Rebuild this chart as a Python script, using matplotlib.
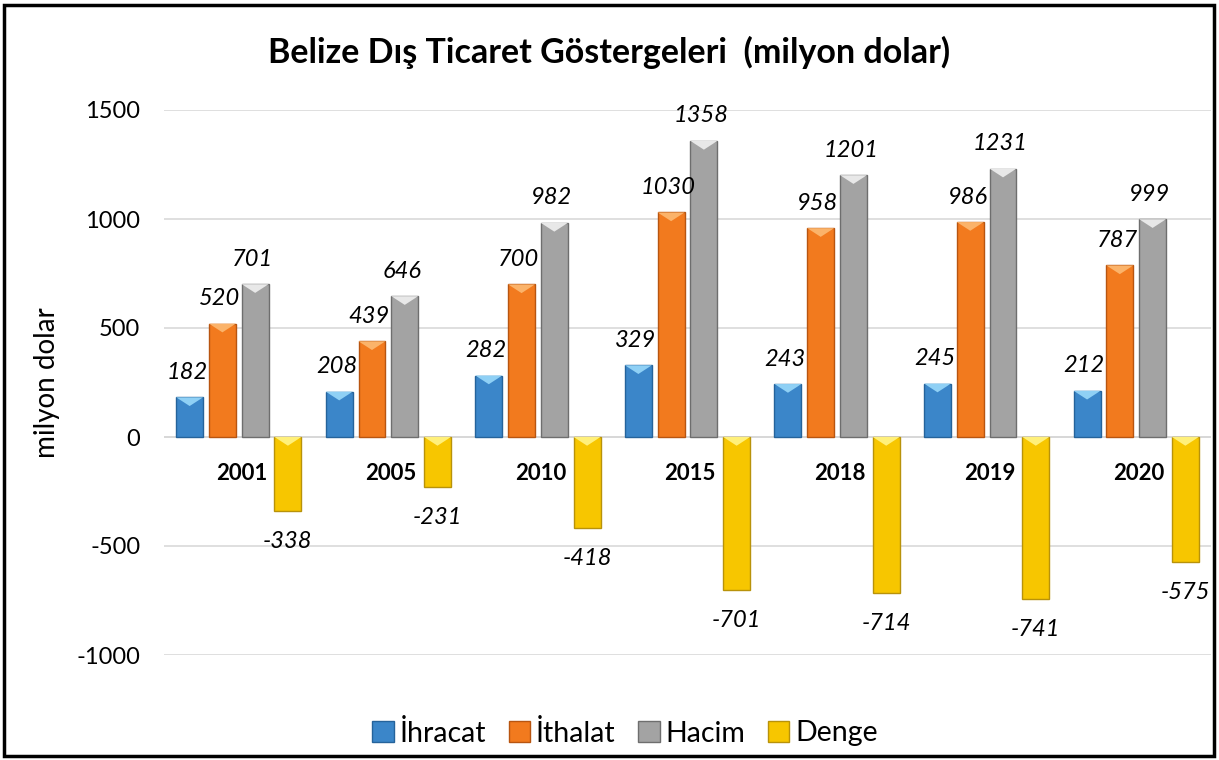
import numpy as np
import matplotlib
matplotlib.use("Agg")
import matplotlib.pyplot as plt
from matplotlib.patches import Polygon, Rectangle

# data
years = ["2001", "2005", "2010", "2015", "2018", "2019", "2020"]
ihracat = [182, 208, 282, 329, 243, 245, 212]
ithalat = [520, 439, 700, 1030, 958, 986, 787]
hacim = [701, 646, 982, 1358, 1201, 1231, 999]
denge = [-338, -231, -418, -701, -714, -741, -575]

series_names = ["İhracat", "İthalat", "Hacim", "Denge"]
colors = ["#3b86c9", "#f27a1e", "#a3a3a3", "#f7c600"]
edge_colors = ["#25639b", "#b85510", "#6e6e6e", "#b8920a"]
light_colors = ["#8fd0f5", "#fbb36a", "#e8e8e8", "#fff07a"]

plt.rcParams['font.family'] = ['Lato', 'DejaVu Sans']

fig = plt.figure(figsize=(12.19, 7.6), dpi=100)
ax = fig.add_axes([164 / 1219, 1 - 655 / 760, (1211 - 164) / 1219, (655 - 110) / 760])

x = np.arange(len(years))
width = 0.18
step = 0.219
all_series = [ihracat, ithalat, hacim, denge]

bevel = 40  # data units for top bevel
for i, vals in enumerate(all_series):
    offs = (i - 1.5) * step
    bars = ax.bar(x + offs, vals, width, color=colors[i], edgecolor=edge_colors[i],
                  linewidth=1, label=series_names[i], zorder=3)
    for b, v in zip(bars, vals):
        x0 = b.get_x()
        x1 = x0 + b.get_width()
        xc = x0 + b.get_width() / 2
        # bevel triangle at the top end of the bar
        top = max(v, 0)
        tri = Polygon([[x0, top], [x1, top], [xc, top - bevel]], closed=True,
                      facecolor=light_colors[i], edgecolor='none', zorder=4)
        ax.add_patch(tri)
        # data label
        if v >= 0:
            ax.annotate(str(v), (xc, v), xytext=(-2, 18), textcoords='offset points',
                        ha='center', va='center', fontsize=17, style='italic', zorder=5)
        else:
            ax.annotate(str(v), (xc, v), xytext=(0, -22), textcoords='offset points',
                        ha='center', va='center', fontsize=17, style='italic', zorder=5)

# category labels below the zero line
for xi, yr in zip(x, years):
    ax.annotate(yr, (xi, 0), xytext=(2, -26), textcoords='offset points',
                ha='center', va='center', fontsize=16, fontweight='bold')

ax.set_xlim(-0.5, len(years) - 0.5)
ax.set_ylim(-1000, 1500)
ax.set_yticks([-1000, -500, 0, 500, 1000, 1500])
ax.set_yticklabels(["-1000", "-500", "0", "500", "1000", "1500"], fontsize=17)
ax.tick_params(axis='y', length=0, pad=17)
ax.set_xticks([])
ax.grid(axis='y', color='#d9d9d9', linewidth=1.2, zorder=0)
for s in ax.spines.values():
    s.set_visible(False)
ax.axhline(0, color='#d0d0d0', linewidth=1.2, zorder=1)

ax.set_ylabel("milyon dolar", fontsize=20, labelpad=12)

fig.text(0.50, 1 - 52 / 760, "Belize Dış Ticaret Göstergeleri  (milyon dolar)",
         ha='center', va='center', fontsize=24.5, fontweight='bold')

leg = fig.legend(loc='center', bbox_to_anchor=(625 / 1219, 1 - 733 / 760), ncol=4,
                 frameon=False, fontsize=20.5, handlelength=0.75, handleheight=0.75,
                 handletextpad=0.2, columnspacing=0.8)

# outer frame
fig.patches.append(Rectangle((4 / 1219, 4 / 760), 1 - 9 / 1219, 1 - 9 / 760,
                             transform=fig.transFigure, fill=False,
                             edgecolor='black', linewidth=2.5))

fig.savefig("out.png", dpi=100)
